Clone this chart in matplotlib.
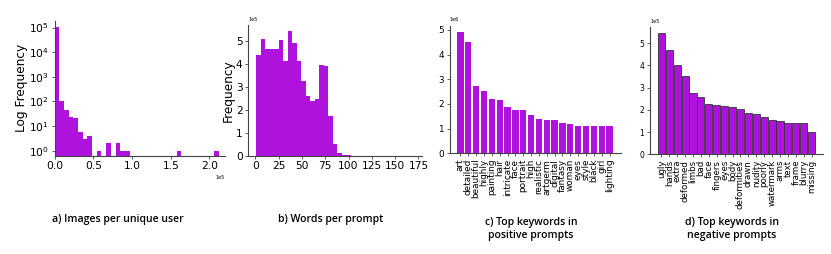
import numpy as np
import matplotlib
matplotlib.use("Agg")
import matplotlib.pyplot as plt
from matplotlib.ticker import NullLocator, FixedLocator

# ---------------- data ----------------
# a) images per unique user: 35 bins over [0, 2.12e5]
user_max = 2.12e5
user_counts = [110000, 105, 44, 24, 21, 6, 3, 4, 0, 1, 0, 2, 0, 2, 1, 1,
               0, 0, 0, 0, 0, 0, 0, 0, 0, 0, 1, 0, 0, 0, 0, 0, 0, 0, 1]

# b) words per prompt: 35 bins over [1, 170]
word_min, word_max = 1, 170
word_counts = [438000, 510000, 465000, 465000, 468000, 507000, 414000, 544000,
               493000, 412000, 325000, 262000, 241000, 249000, 396000, 393000,
               173000, 51000, 13000, 4000, 1200, 400, 150, 60, 30, 20, 10, 5,
               3, 2, 1, 1, 0, 0, 1]

# c) top keywords in positive prompts
pos_words = ["art", "detailed", "beautiful", "highly", "painting", "hair",
             "intricate", "face", "portrait", "high", "realistic", "artgerm",
             "digital", "fantasy", "woman", "eyes", "style", "black", "girl",
             "lighting"]
pos_counts = [4.93e6, 4.52e6, 2.73e6, 2.54e6, 2.19e6, 2.17e6, 1.88e6, 1.77e6,
              1.75e6, 1.54e6, 1.40e6, 1.35e6, 1.35e6, 1.24e6, 1.19e6, 1.12e6,
              1.11e6, 1.11e6, 1.11e6, 1.09e6]

# d) top keywords in negative prompts
neg_words = ["ugly", "hands", "extra", "deformed", "limbs", "bad", "face",
             "fingers", "eyes", "body", "deformities", "drawn", "nudity",
             "poorly", "watermark", "arms", "text", "frame", "blurry", "missing"]
neg_counts = [5.47e5, 4.71e5, 4.00e5, 3.54e5, 2.76e5, 2.57e5, 2.27e5, 2.24e5,
              2.18e5, 2.11e5, 2.03e5, 1.87e5, 1.81e5, 1.67e5, 1.54e5, 1.48e5,
              1.40e5, 1.39e5, 1.39e5, 1.00e5]

captions = ["a) Images per unique user", "b) Words per prompt",
            "c) Top keywords in\npositive prompts",
            "d) Top keywords in\nnegative prompts"]

# ---------------- style ----------------
W, H = 831, 254
PURPLE = "#B012DE"
SPINE = "#444444"

fig = plt.figure(figsize=(W / 100, H / 100), dpi=100)


def box(left, right, top, bottom):
    return [left / W, 1 - bottom / H, (right - left) / W, (bottom - top) / H]


def style(ax, tick_fs):
    for s in ("top", "right"):
        ax.spines[s].set_visible(False)
    for s in ("left", "bottom"):
        ax.spines[s].set_color(SPINE)
        ax.spines[s].set_linewidth(0.8)
    ax.tick_params(labelsize=tick_fs, length=2.5, width=0.6, color=SPINE, pad=1.5)


# a)
axa = fig.add_axes(box(54.5, 225, 20.7, 155.7))
edges_a = np.linspace(0, user_max, len(user_counts) + 1)
centers_a = (edges_a[:-1] + edges_a[1:]) / 2
axa.hist(centers_a, bins=edges_a, weights=user_counts, color=PURPLE, log=True)
axa.set_yscale("log")
axa.set_ylim(0.63, 1.9e5)
axa.set_xlim(0, 2.2e5)
axa.yaxis.set_major_locator(FixedLocator([1, 10, 100, 1e3, 1e4, 1e5]))
axa.yaxis.set_minor_locator(NullLocator())
axa.ticklabel_format(axis="x", style="sci", scilimits=(0, 0))
axa.xaxis.get_offset_text().set_fontsize(3.5)
axa.set_ylabel("Log Frequency", fontsize=8.7, labelpad=1)
style(axa, 7.7)

# b)
axb = fig.add_axes(box(248.3, 421.7, 25, 155.7))
edges_b = np.linspace(word_min, word_max, len(word_counts) + 1)
centers_b = (edges_b[:-1] + edges_b[1:]) / 2
axb.hist(centers_b, bins=edges_b, weights=word_counts, color=PURPLE)
axb.set_xticks(np.arange(0, 176, 25))
axb.ticklabel_format(axis="y", style="sci", scilimits=(0, 0))
axb.yaxis.get_offset_text().set_fontsize(3.5)
axb.set_ylabel("Frequency", fontsize=8.7, labelpad=1)
style(axb, 7.7)

# c)
axc = fig.add_axes(box(449.5, 620.5, 25.6, 153.3))
axc.bar(pos_words, pos_counts, width=0.8, color=PURPLE)
axc.ticklabel_format(axis="y", style="sci", scilimits=(0, 0))
axc.yaxis.get_offset_text().set_fontsize(3.5)
style(axc, 6.4)
axc.tick_params(axis="x", rotation=90)

# d)
axd = fig.add_axes(box(650, 823, 26.7, 154.3))
axd.bar(neg_words, neg_counts, width=0.9, color=PURPLE, edgecolor="#333333",
        linewidth=0.6)
axd.ticklabel_format(axis="y", style="sci", scilimits=(0, 0))
axd.yaxis.get_offset_text().set_fontsize(3.5)
style(axd, 5.5)
axd.tick_params(axis="x", rotation=90, labelsize=6.2)

# captions
cap_kw = dict(ha="center", va="center", fontsize=7.6, fontweight="semibold",
              family="Open Sans", linespacing=1.3)
fig.text(117.5 / W, 1 - 219.5 / H, captions[0], **cap_kw)
fig.text(331 / W, 1 - 219.5 / H, captions[1], **cap_kw)
fig.text(531 / W, 1 - 229 / H, captions[2], **cap_kw)
fig.text(732 / W, 1 - 229 / H, captions[3], **cap_kw)

fig.savefig("out.png", dpi=100)
